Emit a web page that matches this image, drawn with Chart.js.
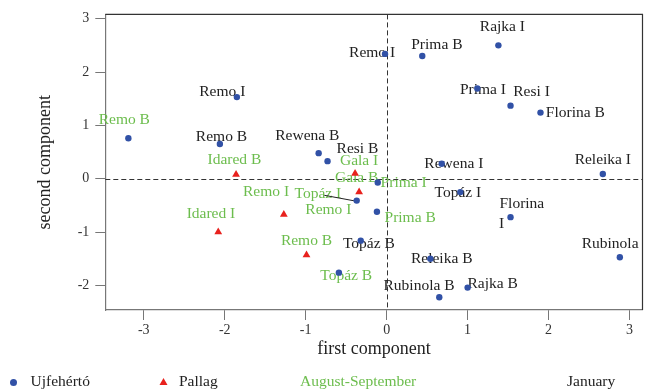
<!DOCTYPE html>
<html>
<head>
<meta charset="utf-8">
<script src="https://cdn.jsdelivr.net/npm/chart.js@4"></script>
<style>
body { margin: 0; background: #fff; }
</style>
</head>
<body>
<canvas id="biplot" width="647" height="390"></canvas>
<script>
// Ujfehértó samples (first / second component)
const ujfX = [-3.19, -1.85, -2.06, -0.02, 0.44, -0.84, -0.73, 1.38, 1.12, 1.53, 1.90, 0.68,
              -0.11, -0.37, -0.12, -0.32, -0.59, 0.54, 0.65, 1.00, 0.91, 2.67, 1.53, 2.88];
const ujfY = [0.76, 1.53, 0.65, 2.34, 2.30, 0.48, 0.33, 2.50, 1.69, 1.37, 1.24, 0.28,
              -0.07, -0.41, -0.62, -1.16, -1.76, -1.50, -2.22, -2.04, -0.25, 0.09, -0.72, -1.47];
// Pallag samples
const palX = [-1.86, -2.08, -0.39, -0.34, -1.27, -0.99];
const palY = [0.08, -1.00, 0.10, -0.25, -0.67, -1.43];

// point labels: text, season ('A' = August-September, 'J' = January), anchor in data units
const labelText = ['Remo B', 'Idared B', 'Gala I', 'Gala B', 'Prima I', 'Remo I', 'Topáz I', 'Remo I',
                   'Prima B', 'Idared I', 'Remo B', 'Topáz B',
                   'Remo I', 'Remo B', 'Rewena B', 'Resi B', 'Remo I', 'Prima B', 'Rajka I', 'Prima I',
                   'Resi I', 'Florina B', 'Releika I', 'Rewena I', 'Topáz I', 'Florina', 'I', 'Rubinola',
                   'Rajka B', 'Releika B', 'Rubinola B', 'Topáz B'];
const labelSeason = ['A', 'A', 'A', 'A', 'A', 'A', 'A', 'A', 'A', 'A', 'A', 'A',
                     'J', 'J', 'J', 'J', 'J', 'J', 'J', 'J', 'J', 'J', 'J', 'J', 'J', 'J', 'J', 'J',
                     'J', 'J', 'J', 'J'];
const labelX = [-3.24, -1.88, -0.34, -0.37, 0.21, -1.49, -0.85, -0.72, 0.29, -2.17, -0.99, -0.50,
                -2.03, -2.04, -0.98, -0.36, -0.18, 0.62, 1.43, 1.19, 1.79, 2.33, 2.67, 0.83, 0.88,
                1.67, 1.42, 2.76, 1.31, 0.68, 0.40, -0.22];
const labelY = [1.11, 0.36, 0.33, 0.02, -0.07, -0.25, -0.28, -0.59, -0.74, -0.65, -1.17, -1.83,
                1.62, 0.79, 0.80, 0.56, 2.36, 2.51, 2.84, 1.67, 1.62, 1.24, 0.36, 0.28, -0.26,
                -0.47, -0.84, -1.23, -1.98, -1.50, -2.01, -1.23];

// leader line from the "Topáz I" label to its point
const leaderX = [-0.77, -0.38];
const leaderY = [-0.31, -0.42];

const xTicks = [-3, -2, -1, 0, 1, 2, 3];
const yTicks = [-2, -1, 0, 1, 2, 3];

const BLUE = '#3151a6';
const RED = '#e8211d';
const GREEN = '#6cbd4d';
const INK = '#222';
const SERIF = '"Liberation Serif", "Times New Roman", serif';

const pts = (xs, ys) => xs.map((x, i) => ({x: x, y: ys[i]}));

const extras = {
    id: 'extras',
    beforeDatasetsDraw(chart) {
        const {ctx, chartArea: a, scales: {x, y}} = chart;
        ctx.save();
        // zero lines
        ctx.strokeStyle = '#333';
        ctx.lineWidth = 1;
        ctx.setLineDash([5, 3]);
        const x0 = Math.round(x.getPixelForValue(0)) + 0.5;
        const y0 = Math.round(y.getPixelForValue(0)) + 0.5;
        ctx.beginPath();
        ctx.moveTo(x0, a.top); ctx.lineTo(x0, a.bottom);
        ctx.moveTo(a.left, y0); ctx.lineTo(a.right, y0);
        ctx.stroke();
        ctx.setLineDash([]);
        // labels
        ctx.font = '15.5px ' + SERIF;
        ctx.textAlign = 'center';
        ctx.textBaseline = 'middle';
        labelText.forEach((t, i) => {
            ctx.fillStyle = labelSeason[i] === 'A' ? GREEN : INK;
            ctx.fillText(t, x.getPixelForValue(labelX[i]), y.getPixelForValue(labelY[i]));
        });
        ctx.restore();
    },
    afterDraw(chart) {
        const {ctx, chartArea: a} = chart;
        ctx.save();
        // top and right frame
        ctx.strokeStyle = '#333';
        ctx.lineWidth = 1.2;
        ctx.beginPath();
        ctx.moveTo(a.left, a.top); ctx.lineTo(a.right, a.top); ctx.lineTo(a.right, a.bottom);
        ctx.stroke();
        // legend row
        const ly = 382;
        ctx.fillStyle = BLUE;
        ctx.beginPath(); ctx.arc(13.5, ly + 0.5, 3.5, 0, Math.PI * 2); ctx.fill();
        ctx.fillStyle = RED;
        ctx.beginPath(); ctx.moveTo(163.5, ly - 4); ctx.lineTo(167.5, ly + 3); ctx.lineTo(159.5, ly + 3); ctx.closePath(); ctx.fill();
        ctx.font = '15.5px ' + SERIF;
        ctx.textBaseline = 'middle';
        ctx.textAlign = 'left';
        ctx.fillStyle = INK;
        ctx.fillText('Ujfehértó', 30.5, ly);
        ctx.fillText('Pallag', 179, ly);
        ctx.fillText('January', 567, ly);
        ctx.fillStyle = GREEN;
        ctx.fillText('August-September', 300, ly);
        ctx.restore();
    }
};

const ctx = document.getElementById('biplot').getContext('2d');
const chart = new Chart(ctx, {
    type: 'scatter',
    data: {
        datasets: [{
            label: 'Ujfehértó',
            data: pts(ujfX, ujfY),
            backgroundColor: BLUE,
            borderWidth: 0,
            pointRadius: 3.2,
            pointStyle: 'circle'
        }, {
            label: 'Pallag',
            data: pts(palX, palY),
            backgroundColor: RED,
            borderWidth: 0,
            pointRadius: 4.5,
            pointStyle: 'triangle'
        }, {
            label: 'leader',
            data: pts(leaderX, leaderY),
            showLine: true,
            borderColor: '#222',
            borderWidth: 1,
            pointRadius: 0
        }]
    },
    options: {
        responsive: false,
        animation: false,
        events: [],
        layout: {padding: {top: 14, right: 1, bottom: 30, left: 0}},
        plugins: {
            legend: {display: false},
            tooltip: {enabled: false}
        },
        scales: {
            x: {
                type: 'linear',
                min: -3.475,
                max: 3.16,
                afterFit: s => { s.height = 50; },
                afterBuildTicks: s => { s.ticks = xTicks.map(v => ({value: v})); },
                grid: {drawOnChartArea: false, tickLength: 10, color: '#777'},
                border: {color: '#777', width: 1.2},
                ticks: {color: '#333', padding: 2, font: {family: SERIF, size: 14}},
                title: {display: true, text: 'first component', color: INK,
                        padding: {top: 0, bottom: 0}, font: {family: SERIF, size: 18}}
            },
            y: {
                type: 'linear',
                min: -2.46,
                max: 3.08,
                afterFit: s => { s.width = 105.3; },
                afterBuildTicks: s => { s.ticks = yTicks.map(v => ({value: v})); },
                grid: {drawOnChartArea: false, tickLength: 10, color: '#777'},
                border: {color: '#777', width: 1.2},
                ticks: {color: '#333', padding: 6, font: {family: SERIF, size: 14}},
                title: {display: true, text: 'second component', color: INK,
                        padding: {top: 34, bottom: 0}, font: {family: SERIF, size: 18}}
            }
        }
    },
    plugins: [extras]
});
</script>
</body>
</html>
